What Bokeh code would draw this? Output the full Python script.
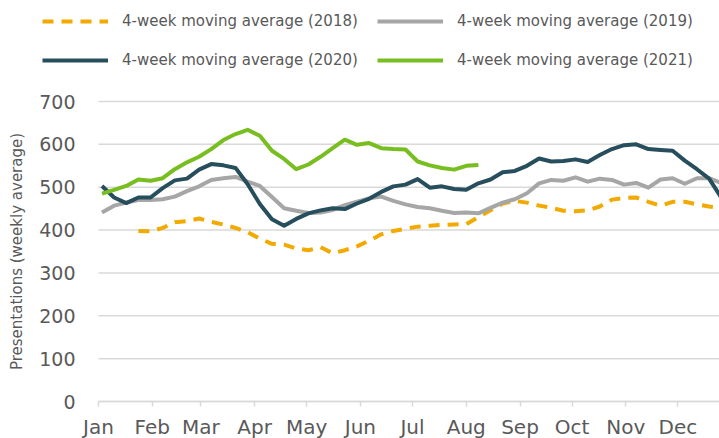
from bokeh.plotting import figure
from bokeh.models import Legend, LegendItem, FixedTicker, Range1d
from bokeh.embed import file_html
from bokeh.resources import INLINE

# ---- data -------------------------------------------------------------
months = ["Jan", "Feb", "Mar", "Apr", "May", "Jun",
          "Jul", "Aug", "Sep", "Oct", "Nov", "Dec"]
month_start_day = [0, 31, 59, 90, 120, 151, 181, 212, 243, 273, 304, 334]
year_end_day = 365
y_ticks = [0, 100, 200, 300, 400, 500, 600, 700]

# day-of-year of each weekly observation (52 weeks)
week_day = list(range(2, 360, 7))

ma_2018 = [398, 397, 405, 418, 421, 427, 419, 413, 405, 395,
           380, 368, 366, 357, 353, 360, 346, 353, 362, 375,
           390, 398, 403, 408, 410, 412, 413, 414, 430, 446,
           462, 468, 464, 457, 452, 445, 444, 446, 455, 471,
           475, 476, 466, 457, 466, 466, 460, 455, 452]          # weeks 4..52
ma_2019 = [441, 457, 464, 470, 470, 472, 478, 491, 502, 517,
           521, 524, 513, 503, 477, 451, 445, 440, 441, 447,
           458, 466, 474, 478, 468, 460, 454, 451, 445, 440,
           441, 439, 452, 464, 472, 486, 509, 517, 515, 523,
           513, 520, 517, 506, 510, 499, 518, 521, 508, 521,
           521, 510]
ma_2020 = [503, 476, 463, 476, 476, 498, 516, 520, 541, 554,
           551, 545, 507, 461, 425, 410, 426, 439, 446, 451,
           449, 462, 473, 489, 502, 506, 519, 499, 502, 496,
           494, 509, 518, 535, 538, 550, 567, 560, 561, 565,
           559, 575, 589, 598, 600, 589, 587, 585, 562, 542,
           520, 476]
ma_2021 = [485, 494, 503, 518, 515, 521, 542, 558, 571, 589,
           610, 624, 634, 620, 585, 566, 542, 553, 571, 591,
           611, 599, 603, 591, 589, 588, 560, 551, 545, 541,
           550, 552]

labels = ["4-week moving average (2018)", "4-week moving average (2019)",
          "4-week moving average (2020)", "4-week moving average (2021)"]
colors = ["#F2A900", "#A6A6A6", "#264E5C", "#78BE21"]

FONT = "DejaVu Sans"
TEXT = "#595959"
GRID = "#D9D9D9"

# ---- figure -----------------------------------------------------------
# The frame fills the whole figure; both axes are pinned (Jan 1 / zero)
# so that the legend and all tick labels sit inside the frame.
PX_PER_DAY = 1.7346
PX_PER_UNIT = 300 / 700
W, H = 719, 438
x0_px = 98                        # screen x of Jan 1
y0_px = 401                       # screen y of value 0
x_start = -x0_px / PX_PER_DAY
x_end = (W - x0_px) / PX_PER_DAY
y_start = -(H - y0_px) / PX_PER_UNIT
y_end = y0_px / PX_PER_UNIT

p = figure(width=W, height=H, output_backend="svg", toolbar_location=None,
           x_range=Range1d(x_start, x_end), y_range=Range1d(y_start, y_end),
           min_border_left=0, min_border_right=0,
           min_border_top=0, min_border_bottom=0)
p.title.visible = False
p.outline_line_color = None
p.background_fill_color = "white"
p.border_fill_color = "white"
p.xgrid.visible = False
p.ygrid.visible = False

# horizontal grid lines (Jan 1 .. Dec 31)
p.segment(x0=[month_start_day[0]] * len(y_ticks), x1=[year_end_day] * len(y_ticks),
          y0=y_ticks, y1=y_ticks, line_color=GRID, line_width=1.5)

r18 = p.line(week_day[3:], ma_2018, line_color=colors[0], line_width=4,
             line_dash="11 8")
r19 = p.line(week_day, ma_2019, line_color=colors[1], line_width=4,
             line_join="round")
r20 = p.line(week_day, ma_2020, line_color=colors[2], line_width=4,
             line_join="round")
r21 = p.line(week_day[:len(ma_2021)], ma_2021, line_color=colors[3], line_width=4,
             line_join="round")

# ---- axes -------------------------------------------------------------
xa = p.xaxis[0]
xa.fixed_location = y_ticks[0]
xa.ticker = FixedTicker(ticks=month_start_day)
xa.major_label_overrides = {d: m for d, m in zip(month_start_day, months)}
xa.bounds = (month_start_day[0], year_end_day)
xa.axis_line_color = GRID
xa.axis_line_width = 1.5
xa.major_tick_line_color = GRID
xa.major_tick_line_width = 1.5
xa.major_tick_out = 5
xa.major_tick_in = 0
xa.minor_tick_line_color = None
xa.major_label_standoff = 8
xa.major_label_text_font = FONT
xa.major_label_text_font_size = "20px"
xa.major_label_text_color = TEXT

ya = p.yaxis[0]
ya.fixed_location = month_start_day[0]
ya.bounds = (y_ticks[0], y_ticks[-1])
ya.ticker = FixedTicker(ticks=y_ticks)
ya.axis_line_color = None
ya.major_tick_line_color = None
ya.minor_tick_line_color = None
ya.major_tick_out = 0
ya.major_label_standoff = 23
ya.major_label_text_font = FONT
ya.major_label_text_font_size = "19px"
ya.major_label_text_color = TEXT
ya.axis_label = "Presentations (weekly average)"
ya.axis_label_text_font = FONT
ya.axis_label_text_font_size = "15px"
ya.axis_label_text_font_style = "normal"
ya.axis_label_text_color = TEXT
ya.axis_label_standoff = 10

# ---- legends (two rows, inside the frame's top band) ------------------
def make_legend(items, loc):
    lg = Legend(items=items, orientation="horizontal", location=loc)
    lg.glyph_width = 66
    lg.glyph_height = 18
    lg.label_standoff = 14
    lg.label_width = 236
    lg.label_height = 18
    lg.spacing = 19
    lg.padding = 0
    lg.margin = 0
    lg.border_line_color = None
    lg.background_fill_alpha = 0
    lg.label_text_font = FONT
    lg.label_text_font_size = "15px"
    lg.label_text_color = TEXT
    return lg

leg1 = make_legend([LegendItem(label=labels[0], renderers=[r18]),
                    LegendItem(label=labels[1], renderers=[r19])],
                   (42, H - 30.3))
leg2 = make_legend([LegendItem(label=labels[2], renderers=[r20]),
                    LegendItem(label=labels[3], renderers=[r21])],
                   (42, H - 68.7))
p.add_layout(leg1)
p.add_layout(leg2)

open("out.html", "w").write(file_html(p, INLINE))
